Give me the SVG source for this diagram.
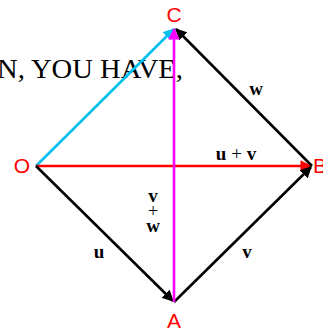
<svg xmlns="http://www.w3.org/2000/svg" width="323" height="332" viewBox="0 0 323 332">
<style>
.pt{font-family:"Liberation Sans",Arial,sans-serif;font-size:21px;fill:#ff0000}
.lb{font-family:"Liberation Serif","Times New Roman",serif;font-size:19px;font-weight:bold;fill:#000}
.pl{font-family:"Liberation Serif","Times New Roman",serif;font-size:18px;fill:#000}
.ln{stroke-width:2.6;fill:none}
</style>
<defs>
<marker id="ak" viewBox="0 0 10 10" refX="9" refY="5" markerWidth="4.5" markerHeight="4.5" orient="auto" markerUnits="strokeWidth"><path d="M0,0 L10,5 L0,10 Z" fill="#000"/></marker>
<marker id="ar" viewBox="0 0 10 10" refX="9" refY="5" markerWidth="4.5" markerHeight="4.5" orient="auto" markerUnits="strokeWidth"><path d="M0,0 L10,5 L0,10 Z" fill="#ff0000"/></marker>
<marker id="ac" viewBox="0 0 10 10" refX="9" refY="5" markerWidth="4.5" markerHeight="4.5" orient="auto" markerUnits="strokeWidth"><path d="M0,0 L10,5 L0,10 Z" fill="#00c0f0"/></marker>
<marker id="am" viewBox="0 0 10 10" refX="9" refY="5" markerWidth="4.5" markerHeight="4.5" orient="auto" markerUnits="strokeWidth"><path d="M0,0 L10,5 L0,10 Z" fill="#ff00ff"/></marker>
</defs>
<rect width="323" height="332" fill="#fff"/>
<text x="-3" y="78" font-family="Liberation Serif,Times New Roman,serif" font-size="27" fill="#000" textLength="186" lengthAdjust="spacingAndGlyphs">N, YOU HAVE,</text>
<g id="connectors">
<line class="ln" x1="36" y1="166" x2="174" y2="29" stroke="#00c0f0" marker-end="url(#ac)"/>
<line class="ln" x1="36" y1="166" x2="311" y2="166" stroke="#ff0000" marker-end="url(#ar)"/>
<line class="ln" x1="312" y1="166" x2="176" y2="29" stroke="#000" marker-end="url(#ak)"/>
<line class="ln" x1="36" y1="166" x2="173" y2="301" stroke="#000" marker-end="url(#ak)"/>
<line class="ln" x1="174" y1="302" x2="311" y2="167" stroke="#000" marker-end="url(#ak)"/>
<line class="ln" x1="174" y1="302" x2="174" y2="29" stroke="#ff00ff" marker-end="url(#am)"/>
<text class="lb" x="256" y="95" text-anchor="middle">w</text>
<text class="lb" x="236" y="160" text-anchor="middle">u <tspan font-weight="normal">+</tspan> v</text>
<text class="lb" x="153" y="202" text-anchor="middle">v</text>
<text class="pl" x="153" y="217" text-anchor="middle">+</text>
<text class="lb" x="153" y="232" text-anchor="middle">w</text>
<text class="lb" x="99" y="258" text-anchor="middle">u</text>
<text class="lb" x="247" y="258" text-anchor="middle">v</text>
</g>
<g id="C"><text class="pt" x="174" y="22" text-anchor="middle">C</text></g>
<g id="O"><text class="pt" x="22" y="173" text-anchor="middle">O</text></g>
<g id="B"><text class="pt" x="313" y="173">B</text></g>
<g id="A"><text class="pt" x="174" y="328" text-anchor="middle">A</text></g>
</svg>
